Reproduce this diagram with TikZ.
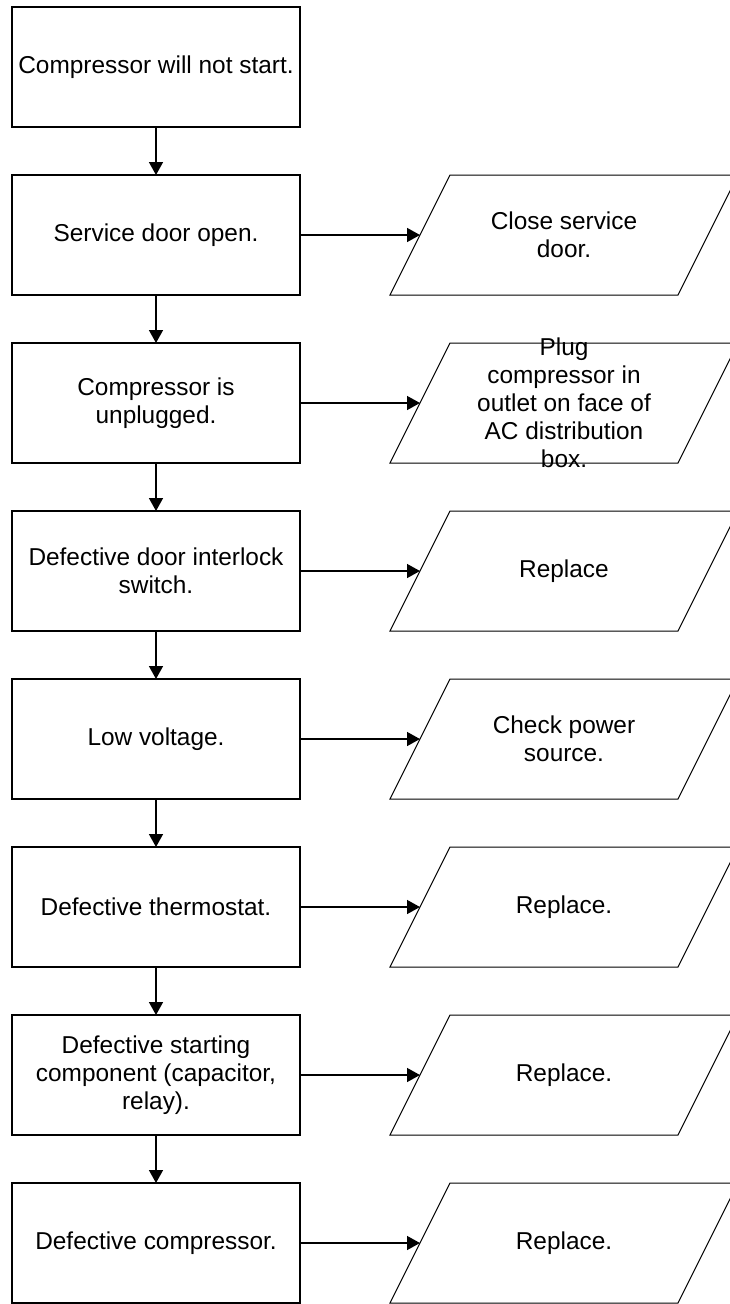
\documentclass[tikz,border=0pt]{standalone}
\usepackage{fontspec}
\setmainfont{Liberation Sans}
\usetikzlibrary{positioning}
\usetikzlibrary{arrows.meta}
\tikzset{	node distance=48pt,
	every node/.style={
		font=\fontsize{24.4}{28}\selectfont,
		align=center},
	fault/.style={
		draw,
		line width=1.6pt,
		minimum width=288pt,
		minimum height=120pt,
		inner sep=0pt,
		outer sep=0pt},
	fix/.style={
		minimum width=288pt,
		minimum height=120pt,
		inner sep=0pt,
		outer sep=0pt},
	slant/.style={
		draw,
		line width=1pt,
		line join=miter},
	flow/.style={
		draw,
		line width=1.5pt,
		-{Triangle[length=13pt,width=14pt]}}
}

\begin{document}
\begin{tikzpicture}[x=1pt,y=-1pt]
	\useasboundingbox (0,0) rectangle (730,1304);
	\node[fault] (B1) at (156,67) {Compressor will not start.};
	\node[fault, below=of B1] (B2) {Service door open.};
	\node[fault, below=of B2] (B3) {Compressor is\\unplugged.};
	\node[fault, below=of B3] (B4) {Defective door interlock\\switch.};
	\node[fault, below=of B4] (B5) {Low voltage.};
	\node[fault, below=of B5] (B6) {Defective thermostat.};
	\node[fault, below=of B6] (B7) {Defective starting\\component (capacitor,\\relay).};
	\node[fault, below=of B7] (B8) {Defective compressor.};
	% remedies
	\node[fix, right=120pt of B2] (P2) {Close service\\door.};
	\node[fix, right=120pt of B3] (P3) {Plug\\compressor in\\outlet on face of\\AC distribution\\box.};
	\node[fix, right=120pt of B4] (P4) {Replace};
	\node[fix, right=120pt of B5] (P5) {Check power\\source.};
	\node[fix, right=120pt of B6] (P6) {Replace.};
	\node[fix, right=120pt of B7] (P7) {Replace.};
	\node[fix, right=120pt of B8] (P8) {Replace.};
	\foreach \i in {2,...,8}
		\draw[slant] ([shift={(-174,60)}]P\i.center) -- ([shift={(114,60)}]P\i.center)
			-- ([shift={(174,-60)}]P\i.center) -- ([shift={(-114,-60)}]P\i.center) -- cycle;
	\foreach \a/\b in {1/2,2/3,3/4,4/5,5/6,6/7,7/8}
		\draw[flow] (B\a) -- (B\b);
	\foreach \i in {2,...,8}
		\draw[flow] (B\i) -- (P\i.west);
\end{tikzpicture}
\end{document}
